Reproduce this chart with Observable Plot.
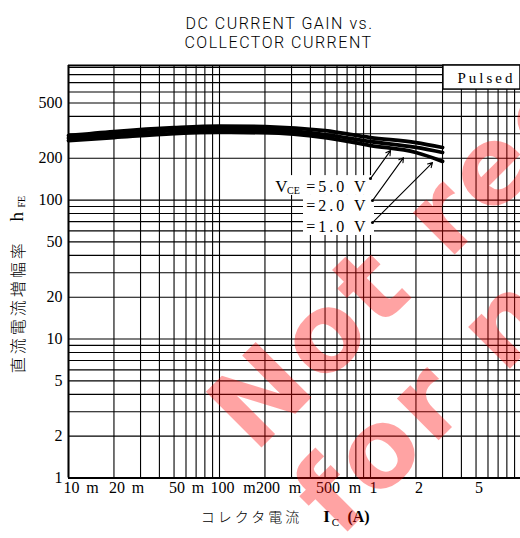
<!DOCTYPE html>
<html><head><meta charset="utf-8">
<script src="https://cdn.jsdelivr.net/npm/d3@7"></script>
<script src="https://cdn.jsdelivr.net/npm/@observablehq/plot@0.6"></script>
<style>
body{margin:0;background:#fff;}
#chart{position:relative;width:520px;height:538px;overflow:hidden;}
#wm{position:absolute;left:0;top:0;pointer-events:none;font-family:"DejaVu Sans";font-weight:bold;font-size:108px;letter-spacing:5px;color:rgba(255,0,0,0.36);white-space:nowrap;line-height:120px;transform-origin:0 0;}
</style></head><body><div id="chart"></div>
<script>
// ---- data ----
const currents = [0.01, 0.02, 0.05, 0.1, 0.2, 0.5, 1, 2, 3];            // Ic (A)
const hfe5V    = [291, 311, 332, 341, 338, 316, 282, 259, 239];
const hfe2V    = [279, 296, 316, 324, 322, 296, 264, 239, 220];
const hfe1V    = [268, 282, 301, 308, 306, 282, 247, 220, 190];
const seriesNames = ["5.0 V", "2.0 V", "1.0 V"];
const legendTexts = ["=5.0 V", "=2.0 V", "=1.0 V"];
const legendIc    = [0.97, 0.97, 0.97];
const legendHfe   = [125, 91, 64.5];
const arrowIcFrom  = [1.0, 1.031, 1.031];
const arrowHfeFrom = [142.8, 99.2, 68.9];
const arrowIcTo    = [1.357, 1.654, 2.574];
const arrowHfeTo   = [227, 202, 186];
const yTicks = [1, 2, 5, 10, 20, 50, 100, 200, 500];
const yTickLabels = ["1", "2", "5", "10", "20", "50", "100", "200", "500"];
const xTicks = [0.01, 0.02, 0.05, 0.1, 0.2, 0.5, 1, 2, 5];
const xTickNumbers = ["10", "20", "50", "100", "200", "500", "1", "2", "5"];
const xTickUnits = ["m", "m", "m", "m", "m", "m", "", "", ""];
const titleLines = ["DC CURRENT GAIN vs.", "COLLECTOR CURRENT"];
const xTitle = "コレクタ電流", yTitle = "直流電流増幅率";
const xDomain = [0.01, 9.85], yDomain = [1, 930];
const pulsedBox = [{x1: 3.04, x2: 9.85, y1: 624, y2: 930}];
const legendBoxes = [{x1: 0.218, x2: 1.063, y1: 108, y2: 150}, {x1: 0.36, x2: 1.063, y1: 55.6, y2: 108}];

// ---- derived tables ----
const seriesVals = [hfe5V, hfe2V, hfe1V];
const rows = seriesNames.flatMap((s, i) => currents.map((c, j) => ({series: s, ic: c, hfe: seriesVals[i][j]})));
const legend = legendTexts.map((t, i) => ({t, x: legendIc[i], y: legendHfe[i]}));
const arrows = arrowIcFrom.map((_, i) => ({x1: arrowIcFrom[i], y1: arrowHfeFrom[i], x2: arrowIcTo[i], y2: arrowHfeTo[i]}));
const xGrid = [], yGrid = [];
for (const d of [0.01, 0.1, 1]) for (let k = 1; k <= 9; k++) { const v = +(k * d).toPrecision(3); if (v < xDomain[1]) xGrid.push(v); }
for (const d of [1, 10, 100]) for (let k = 1; k <= 9; k++) yGrid.push(k * d);
const xTickRows = xTicks.map((v, i) => ({v, n: xTickNumbers[i], u: xTickUnits[i]}));
const yTickRows = yTicks.map((v, i) => ({v, t: yTickLabels[i]}));
const serif = "Liberation Serif";

const plot = Plot.plot({
  width: 520, height: 538,
  marginLeft: 68, marginRight: 0, marginTop: 65, marginBottom: 60.5,
  x: {type: "log", domain: xDomain, axis: null},
  y: {type: "log", domain: yDomain, axis: null},
  style: {background: "white"},
  marks: [
    Plot.ruleX(xGrid, {stroke: "black", strokeWidth: 1.1}),
    Plot.ruleY(yGrid, {stroke: "black", strokeWidth: 1.1}),
    Plot.ruleX([xDomain[0]], {stroke: "black", strokeWidth: 2}),
    Plot.ruleY([yDomain[0], yDomain[1]], {stroke: "black", strokeWidth: 2}),
    Plot.rect(pulsedBox, {x1: "x1", x2: "x2", y1: "y1", y2: "y2", fill: "white", stroke: "black", strokeWidth: 1.5}),
    Plot.text(["Pulsed"], {x: pulsedBox[0].x1, y: pulsedBox[0].y1, dx: 14, dy: -11, textAnchor: "start", fontFamily: serif, fontSize: 15, fill: "black"}),
    Plot.rect(legendBoxes, {x1: "x1", x2: "x2", y1: "y1", y2: "y2", fill: "white"}),
    Plot.line(rows, {x: "ic", y: "hfe", z: "series", stroke: "black", strokeWidth: 3.8, curve: "monotone-x"}),
    Plot.arrow(arrows, {x1: "x1", y1: "y1", x2: "x2", y2: "y2", stroke: "black", strokeWidth: 1.1, headLength: 7}),
    Plot.dot(arrows, {x: "x1", y: "y1", r: 1.5, fill: "black"}),
    Plot.text(legend, {x: "x", y: "y", text: "t", textAnchor: "end", fontFamily: serif, fontSize: 16, fill: "black"}),
    Plot.text([legend[0]], {x: "x", y: "y", text: () => "V", dx: -87, textAnchor: "middle", fontFamily: serif, fontSize: 17, fill: "black"}),
    Plot.text([legend[0]], {x: "x", y: "y", text: () => "CE", dx: -75, dy: 4, textAnchor: "middle", fontFamily: serif, fontSize: 10, fill: "black"}),
    Plot.text(yTickRows, {y: "v", text: "t", frameAnchor: "left", dx: -6, textAnchor: "end", fontFamily: serif, fontSize: 16, fill: "black"}),
    Plot.text(xTickRows, {x: "v", text: "n", frameAnchor: "bottom", dy: 15, dx: 3, fontFamily: serif, fontSize: 16, fill: "black"}),
    Plot.text(xTickRows.filter(d => d.u && d.n.length === 2), {x: "v", text: "u", frameAnchor: "bottom", dy: 15, dx: 24, fontFamily: serif, fontSize: 16, fill: "black"}),
    Plot.text(xTickRows.filter(d => d.u && d.n.length === 3), {x: "v", text: "u", frameAnchor: "bottom", dy: 15, dx: 30, fontFamily: serif, fontSize: 16, fill: "black"}),
    Plot.text([titleLines[0]], {frameAnchor: "top", dx: -15, dy: -48, fontFamily: "Roboto", fontWeight: 300, fontSize: 16, fill: "black"}),
    Plot.text([titleLines[1]], {frameAnchor: "top", dx: -16, dy: -29, fontFamily: "Roboto", fontWeight: 300, fontSize: 16, fill: "black"}),
    Plot.text([xTitle], {frameAnchor: "bottom", dx: -43, dy: 44, fontFamily: "Noto Sans CJK JP", fontWeight: 300, fontSize: 14, fill: "black"}),
    Plot.text(["I"], {frameAnchor: "bottom", dx: 32, dy: 44, fontFamily: serif, fontWeight: "bold", fontSize: 17, fill: "black"}),
    Plot.text(["C"], {frameAnchor: "bottom", dx: 41, dy: 48, fontFamily: serif, fontSize: 11, fill: "black"}),
    Plot.text(["(A)"], {frameAnchor: "bottom", dx: 64, dy: 44, fontFamily: serif, fontWeight: "bold", fontSize: 16, fill: "black"}),
    Plot.text([yTitle], {frameAnchor: "left", textAnchor: "middle", dx: -50, dy: 35, rotate: -90, fontFamily: "Noto Sans CJK JP", fontWeight: 300, fontSize: 16, fill: "black"}),
    Plot.text(["h"], {frameAnchor: "left", textAnchor: "middle", dx: -52, dy: -55, rotate: -90, fontFamily: serif, fontSize: 19, fill: "black"}),
    Plot.text(["FE"], {frameAnchor: "left", textAnchor: "middle", dx: -47, dy: -70, rotate: -90, fontFamily: serif, fontSize: 10, fill: "black"})
  ]
});
document.getElementById("chart").appendChild(plot);
const svg = d3.select(plot);
svg.selectAll("text").filter(function() { return legendTexts.includes(this.textContent) || this.textContent === "Pulsed"; }).attr("letter-spacing", 3);
svg.selectAll("text").filter(function() { return titleLines.includes(this.textContent); }).attr("letter-spacing", 1.5);
svg.selectAll("text").filter(function() { return this.textContent === xTitle || this.textContent === yTitle; }).attr("letter-spacing", 3);

// watermark overlay
const wm = document.createElement("div");
wm.id = "wm";
wm.innerHTML = "Not recommended<br>for new design";
wm.style.transform = "translate(186px, 386px) rotate(-45deg)";
document.getElementById("chart").appendChild(wm);
</script></body></html>
